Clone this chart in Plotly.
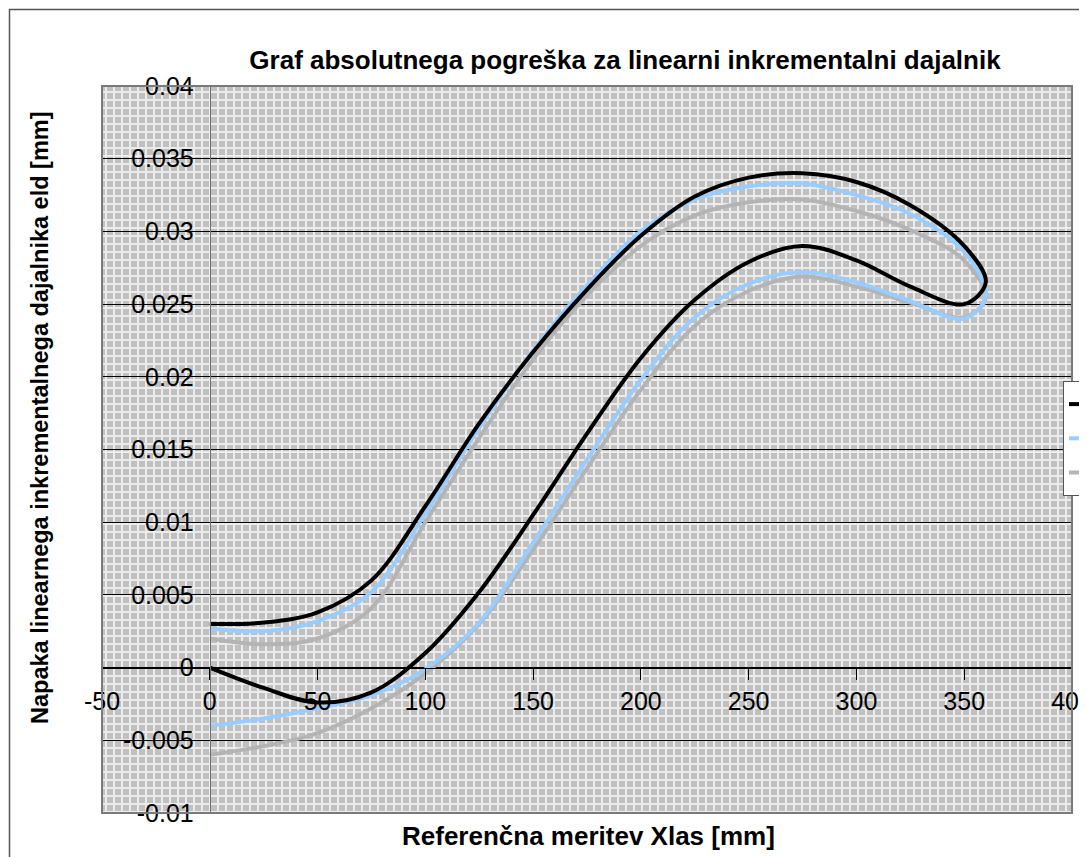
import plotly.graph_objects as go

# ---------------- data ----------------
x_lower = [0, 25, 50, 75, 100, 125, 150, 175, 200, 225, 250, 275, 300, 325, 350, 360]
x_upper = [360, 350, 325, 300, 275, 250, 225, 200, 175, 150, 125, 100, 75, 50, 25, 0]

black_lower = [0.0, -0.0014, -0.0024, -0.0017, 0.0010, 0.0052, 0.0105, 0.0161, 0.0213,
               0.0253, 0.0279, 0.0290, 0.0280, 0.0262, 0.0250, 0.0265]
black_upper = [0.0265, 0.0290, 0.0318, 0.0334, 0.0340, 0.0337, 0.0324, 0.0297, 0.0260,
               0.0217, 0.0168, 0.0111, 0.0060, 0.0038, 0.0031, 0.0030]

blue_lower = [-0.0040, -0.0035, -0.0028, -0.0019, -0.0001, 0.0031, 0.0086, 0.0143, 0.0198,
              0.0241, 0.0264, 0.0272, 0.0265, 0.0252, 0.0240, 0.0256]
blue_upper = [0.0256, 0.0286, 0.0312, 0.0325, 0.0333, 0.0331, 0.0322, 0.0300, 0.0263,
              0.0218, 0.0165, 0.0106, 0.0052, 0.0032, 0.0025, 0.0027]

gray_lower = [-0.0060, -0.0054, -0.0045, -0.0028, -0.0004, 0.0030, 0.0081, 0.0137, 0.0191,
              0.0235, 0.0259, 0.0269, 0.0262, 0.0251, 0.0241, 0.0254]
gray_upper = [0.0254, 0.0280, 0.0301, 0.0314, 0.0322, 0.0320, 0.0311, 0.0290, 0.0256,
              0.0212, 0.0158, 0.0100, 0.0041, 0.0020, 0.0016, 0.0020]

series_names = ["Meritev 1", "Meritev 2", "Meritev 3"]

x_tick_vals = [-50, 0, 50, 100, 150, 200, 250, 300, 350, 400]
x_tick_text = ["-50", "0", "50", "100", "150", "200", "250", "300", "350", "400"]
y_tick_vals = [-0.01, -0.005, 0, 0.005, 0.01, 0.015, 0.02, 0.025, 0.03, 0.035, 0.04]
y_tick_text = ["-0.01", "-0.005", "0", "0.005", "0.01", "0.015", "0.02", "0.025",
               "0.03", "0.035", "0.04"]

title_text = "Graf absolutnega pogreška za linearni inkrementalni dajalnik"
x_title = "Referenčna meritev Xlas [mm]"
y_title = "Napaka linearnega inkrementalnega dajalnika eld [mm]"

FONT = "Liberation Sans, Arial, sans-serif"

# ---------------- figure ----------------
fig = go.Figure()

series = [
    (series_names[2], gray_lower + gray_upper[1:], "#b4b4b4"),
    (series_names[1], blue_lower + blue_upper[1:], "#99ccff"),
    (series_names[0], black_lower + black_upper[1:], "#000000"),
]
x_all = x_lower + x_upper[1:]
for name, ys, color in series:
    fig.add_trace(go.Scatter(
        x=x_all, y=ys, name=name, mode="lines",
        line=dict(color=color, width=4, shape="spline", smoothing=1.0),
    ))

# page offset of the browser's default body margin
OFF = 8
W, H = 1087 - OFF, 857 - OFF
L, R, T, B = 94, 15, 78, 44
pw, ph = W - L - R, H - T - B

def px_x(p):
    return (p - OFF - L) / pw

def px_y(p):
    return (H - B - (p - OFF)) / ph

fig.update_layout(
    width=W, height=H,
    margin=dict(l=L, r=R, t=T, b=B, autoexpand=False),
    paper_bgcolor="white",
    plot_bgcolor="#c0c0c0",
    font=dict(family=FONT, color="black"),
    title=dict(text="<b>" + title_text + "</b>", x=(625 - OFF) / W, xanchor="center",
               y=1 - (60 - OFF) / H, yanchor="middle", font=dict(size=26, family=FONT)),
    showlegend=True,
    legend=dict(x=px_x(1063), y=px_y(381), xanchor="left", yanchor="top",
                bgcolor="white", bordercolor="#555555", borderwidth=1,
                traceorder="reversed", font=dict(size=24, family=FONT)),
)

fig.update_xaxes(
    range=[-50, 400], anchor="free", position=0.2,
    tickmode="array", tickvals=x_tick_vals, ticktext=x_tick_text,
    ticks="outside", ticklen=11, tickcolor="black", tickwidth=1,
    showline=True, linecolor="black", linewidth=1,
    showgrid=False, zeroline=False,
    tickfont=dict(size=25, family=FONT, color="black"),
    ticklabeloverflow="allow",
    minor=dict(dtick=3.7143, tick0=0, showgrid=True, gridcolor="#ececec", gridwidth=2),
)
fig.update_yaxes(
    range=[-0.01, 0.04], anchor="free", position=50 / 450,
    tickmode="array", tickvals=y_tick_vals, ticktext=y_tick_text,
    ticks="outside", ticklen=11, tickcolor="black", tickwidth=1,
    showline=True, linecolor="#707070", linewidth=1,
    showgrid=True, gridcolor="black", gridwidth=1, zeroline=False,
    tickfont=dict(size=25, family=FONT, color="black"),
    ticklabeloverflow="allow",
    minor=dict(dtick=0.00055, tick0=0, showgrid=True, gridcolor="#ececec", gridwidth=2),
)

# plot-area border and outer chart frame
fig.add_shape(type="rect", xref="paper", yref="paper", x0=0, x1=1, y0=0, y1=1,
              line=dict(color="#7a7a7a", width=2), layer="above")
fig.add_shape(type="rect", xref="paper", yref="paper",
              x0=px_x(OFF + 1.5), x1=1.3, y0=-0.3, y1=px_y(9.5),
              line=dict(color="#555555", width=1.5), layer="above")

# axis titles
fig.add_annotation(text="<b>" + x_title + "</b>", xref="paper", yref="paper",
                   x=px_x(588), y=px_y(836), xanchor="center", yanchor="middle",
                   showarrow=False, font=dict(size=26, family=FONT, color="black"))
fig.add_annotation(text="<b>" + y_title + "</b>", xref="paper", yref="paper",
                   x=px_x(40), y=px_y(418), xanchor="center", yanchor="middle",
                   textangle=-90, showarrow=False,
                   font=dict(size=23.5, family=FONT, color="black"))

fig.write_html("out.html")
